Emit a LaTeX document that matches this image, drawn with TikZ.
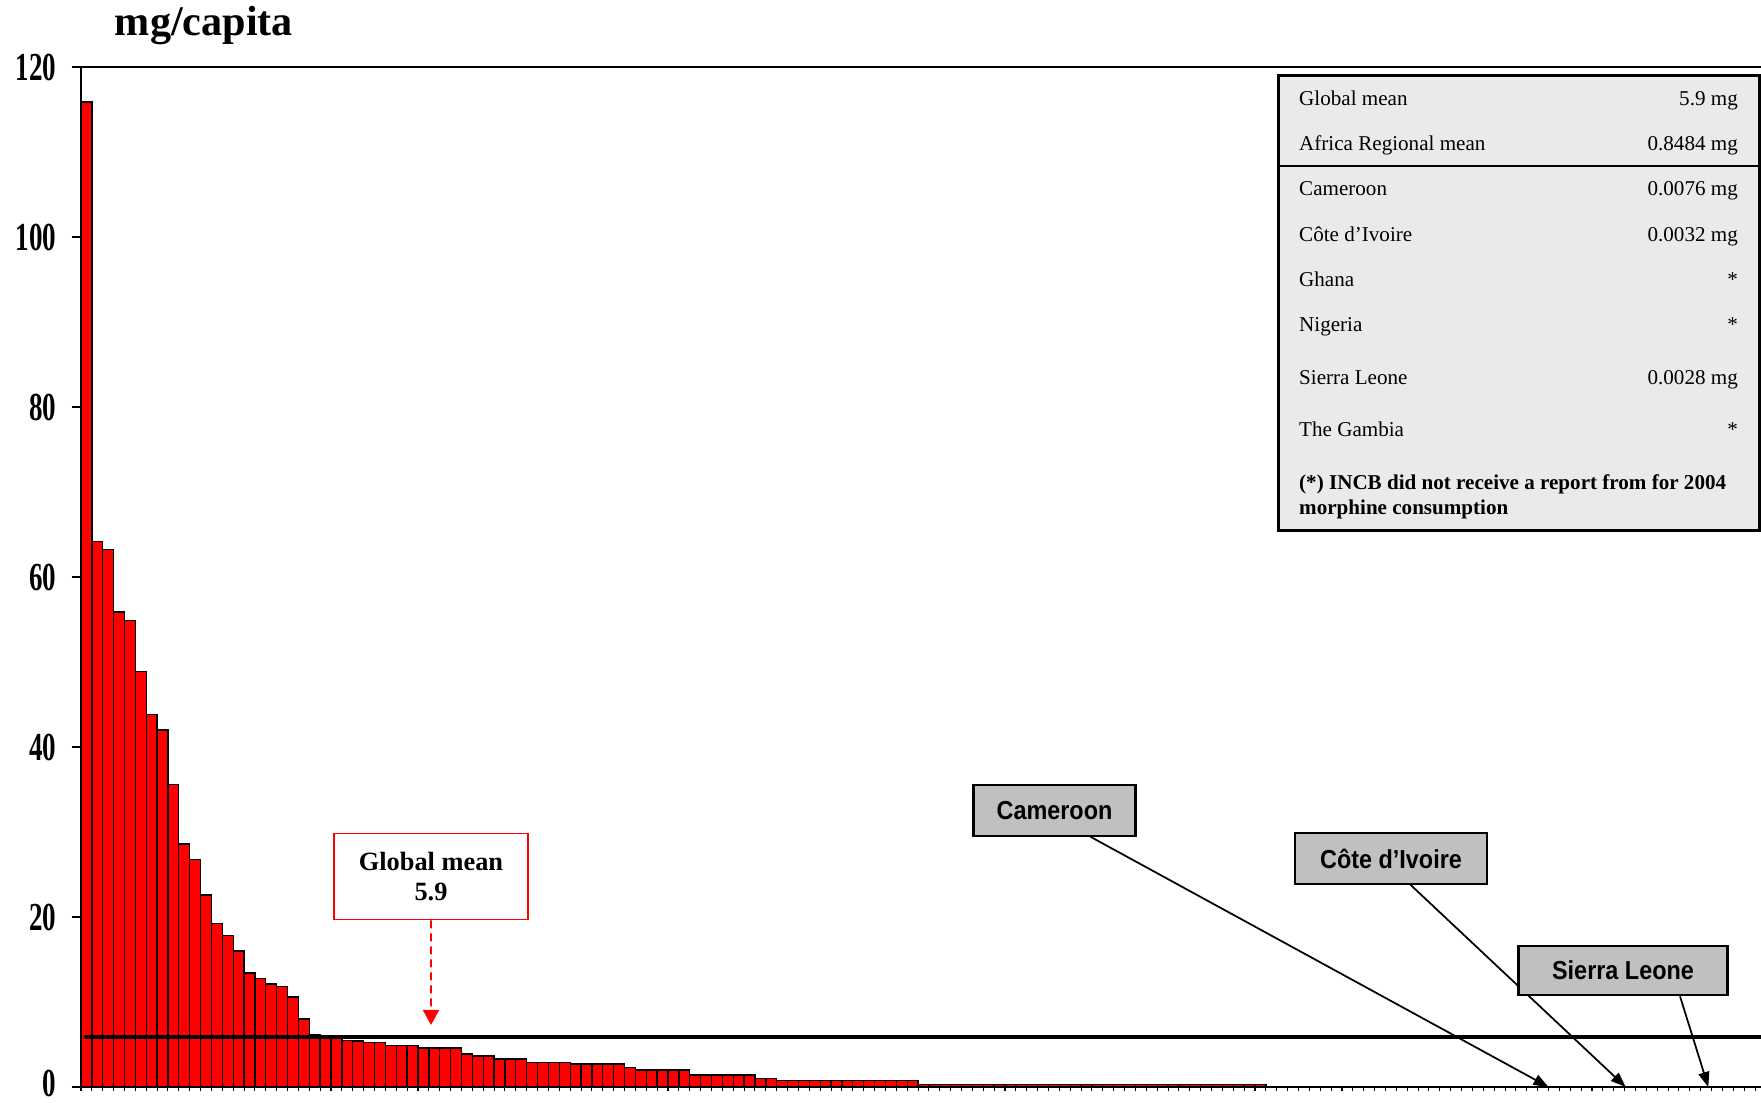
\documentclass[tikz,border=0pt]{standalone}
\usepackage{fontspec}
\setmainfont{Liberation Serif}
\setsansfont{Liberation Sans}
\newfontfamily\axisfont{Liberation Serif}[FakeStretch=0.68]
\newfontfamily\calloutfont{Liberation Sans}[FakeStretch=0.9]
\usetikzlibrary{arrows.meta}

\definecolor{barred}{RGB}{255,0,0}
\definecolor{boxgray}{RGB}{192,192,192}
\definecolor{keygray}{RGB}{234,234,234}

\begin{document}
\begin{tikzpicture}[line width=.8pt,
    bar/.style={fill=barred, draw=black, line width=.75pt},
    ylabel/.style={anchor=east, inner sep=0pt, font=\axisfont\bfseries\fontsize{22.6}{24}\selectfont},
    callout/.style={draw=black, fill=boxgray, line width=1.2pt, inner sep=0pt,
      minimum height=1.01cm, font=\calloutfont\bfseries\fontsize{14.8}{17}\selectfont},
    key/.style={inner sep=0pt, font=\fontsize{12}{14}\selectfont},
    pointer/.style={-{Triangle[length=.3cm,width=.22cm]}, line width=1pt}]
  \useasboundingbox (0,0) rectangle (35.22,22.06);
  \node[font=\bfseries\fontsize{24}{28}\selectfont, anchor=base] (title) at (4.08,21.34) {mg/capita};

  % chart, in bar / mg units
  \begin{scope}[shift={(1.62,.32)}, x=.2174cm, y=.17cm]
    \foreach \v [count=\i] in {115.9,64.2,63.2,55.9,54.9,48.9,43.8,42.0,35.6,28.6,
        26.8,22.6,19.2,17.8,16.0,13.4,12.8,12.1,11.8,10.6,8.0,6.1,5.8,5.7,5.5,5.4,
        5.2,5.2,4.9,4.9,4.9,4.6,4.6,4.6,4.6,3.9,3.65,3.65,3.3,3.3,3.3,2.9,2.9,2.9,
        2.9,2.7,2.7,2.7,2.7,2.7,2.3,2.0,2.0,2.0,2.0,2.0,1.4,1.4,1.4,1.4,1.4,1.4,1.0,1.0}
      \draw[bar] (\i-1,0) rectangle (\i,\v);
    \foreach \i in {65,...,77}
      \draw[bar] (\i-1,0) rectangle (\i,.75);
    \foreach \i in {78,...,109}
      \draw[bar] (\i-1,0) rectangle (\i,.3);
    \draw (-.83,120) -- (154.6,120);
    \draw (0,0) -- (0,120);
    \draw (-.83,0) -- (154.6,0);
    \foreach \t in {20,40,...,100}
      \draw (-.83,\t) -- (0,\t);
    \foreach \i in {0,...,154}
      \draw[line width=.6pt] (\i,0) -- (\i,-.47);
    \foreach \t in {20,40,...,120}
      \node[ylabel] (ylab-\t) at (-2.21,\t) {\t};
    \node[ylabel] (ylab-0) at (-2.21,.4) {0};
    \draw[line width=2.3pt, line cap=round] (.46,5.9) -- (154.6,5.9);
    \coordinate (gm-tip) at (32.2,7.3);
    \coordinate (cam-tip) at (135,0);
    \coordinate (civ-tip) at (142.1,0);
    \coordinate (sl-tip) at (149.7,0);
  \end{scope}

  % key table
  \node[draw, fill=keygray, line width=1.5pt, minimum width=9.62cm, minimum height=9.11cm]
    (key) at (30.38,16.0) {};
  \draw[line width=1.5pt] (25.57,18.74) -- (35.19,18.74);
  \foreach \y/\name/\val [count=\k] in {19.94/Global mean/5.9 mg,
      19.05/Africa Regional mean/0.8484 mg,18.14/Cameroon/0.0076 mg,
      17.23/Côte d’Ivoire/0.0032 mg,16.33/Ghana/*,15.43/Nigeria/*,
      14.36/Sierra Leone/0.0028 mg,13.33/The Gambia/*}
  {
    \node[key, anchor=base west] (name-\k) at (25.97,\y) {\name};
    \node[key, anchor=base east] (val-\k) at (34.77,\y) {\val};
  }
  \node[key, anchor=base west, font=\fontsize{12}{14}\selectfont\bfseries] (foot-1)
    at (25.97,12.26) {(*) INCB did not receive a report from for 2004};
  \node[key, anchor=base west, font=\fontsize{12}{14}\selectfont\bfseries] (foot-2)
    at (25.97,11.76) {morphine consumption};

  % global mean callout
  \node[draw=red, line width=1pt, fill=white, minimum width=3.87cm, minimum height=1.72cm,
    align=center, font=\bfseries\fontsize{15}{17.5}\selectfont] (gm) at (8.62,4.53)
    {Global mean\\5.9};
  \draw[red, line width=1.1pt, dash pattern=on 4.6pt off 2.8pt,
    -{Triangle[length=.3cm,width=.32cm]}] (gm.south) -- (gm-tip);

  % country callouts
  \node[callout, minimum width=3.24cm] (cam) at (21.09,5.85) {Cameroon};
  \node[callout, minimum width=3.84cm] (civ) at (27.82,4.89) {Côte d’Ivoire};
  \draw[pointer] ([xshift=.72cm]cam.south) -- (cam-tip);
  \draw[pointer] ([xshift=.39cm]civ.south) -- (civ-tip);
  \node[callout, minimum width=4.18cm, minimum height=.99cm] (sl) at (32.46,2.65) {Sierra Leone};
  \draw[pointer] ([xshift=1.14cm]sl.south) -- (sl-tip);
\end{tikzpicture}
\end{document}
